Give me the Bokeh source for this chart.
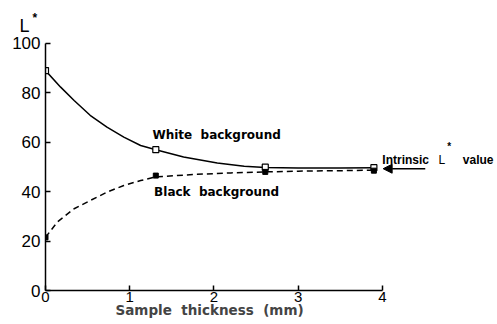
from bokeh.plotting import figure
from bokeh.layouts import column
from bokeh.models import Range1d, Label, Arrow, NormalHead, FixedTicker, Title, Div
from bokeh.embed import file_html
from bokeh.resources import INLINE

# ---- data ----
thickness = [0.0, 1.31, 2.61, 3.9]
white_L = [89.0, 57.0, 49.9, 49.7]
black_L = [21.5, 46.5, 48.0, 48.5]

# fitted curves
white_curve_x = [0.0, 0.18, 0.34, 0.53, 0.73, 0.93, 1.13, 1.31, 1.64, 2.04, 2.36, 2.61, 3.0, 3.5, 3.9]
white_curve_y = [89.0, 82.3, 76.9, 70.9, 66.1, 62.1, 58.7, 57.0, 54.0, 51.6, 50.3, 49.8, 49.6, 49.6, 49.7]
black_curve_x = [0.0, 0.14, 0.34, 0.53, 0.73, 0.93, 1.13, 1.31, 1.8, 2.2, 2.61, 3.0, 3.5, 3.9]
black_curve_y = [21.5, 27.7, 33.1, 36.4, 39.8, 42.5, 44.5, 46.0, 47.0, 47.6, 48.0, 48.3, 48.5, 48.7]

x_ticks = [0, 1, 2, 3, 4]
y_ticks = [0, 20, 40, 60, 80, 100]

FONT = "Liberation Sans"
BOLD_WIDE = "DejaVu Sans"
NB = "\u00a0\u00a0"

X_END = 5.368
Y_TOP = 102.8

# ---- main chart ----
p = figure(width=497, height=291, output_backend="svg", toolbar_location=None,
           x_range=Range1d(0, X_END), y_range=Range1d(0, Y_TOP),
           min_border_left=45, min_border_right=0, min_border_top=3, min_border_bottom=34)
p.title = None
p.outline_line_color = None
p.xgrid.visible = False
p.ygrid.visible = False
p.background_fill_color = "white"
p.border_fill_color = "white"

for ax, ticks, bounds in ((p.xaxis, x_ticks, (0, 4)), (p.yaxis, y_ticks, (0, 100))):
    ax.ticker = FixedTicker(ticks=ticks)
    ax.bounds = bounds
    ax.axis_line_color = "black"
    ax.axis_line_width = 1.5
    ax.major_tick_line_color = "black"
    ax.major_tick_line_width = 1.5
    ax.major_tick_in = 5
    ax.major_tick_out = 0
    ax.minor_tick_line_color = None
    ax.major_label_text_font = FONT
    ax.major_label_text_color = "black"
p.xaxis.major_label_text_font_size = "15px"
p.yaxis.major_label_text_font_size = "17px"
p.xaxis.major_label_standoff = 1
p.yaxis.major_label_standoff = 5

# x axis title (drawn in the bottom panel)
xt = Title(text="Sample" + NB + "thickness" + NB + "(mm)", align="left", offset=70,
           text_font=BOLD_WIDE, text_font_size="13.5px", text_font_style="bold",
           standoff=0)
try:
    xt.standoff = -9
except Exception:
    pass
p.add_layout(xt, "below")

# curves
p.line(white_curve_x, white_curve_y, line_color="black", line_width=1.5)
p.line(black_curve_x, black_curve_y, line_color="black", line_width=1.5, line_dash="6 4")

# markers
p.scatter(thickness, white_L, marker="square", size=6, fill_color="white",
          line_color="black", line_width=1.2)
p.scatter(thickness, black_L, marker="square", size=5, fill_color="black",
          line_color="black", line_width=1)

# annotations
def lab(fig, x, y, t, font=FONT, size="12px", bold=True, align="left"):
    fig.add_layout(Label(x=x, y=y, text=t, text_font=font, text_font_size=size,
                         text_font_style="bold" if bold else "normal",
                         text_align=align, text_baseline="alphabetic", text_color="black"))

lab(p, 1.27, 62.9, "White" + NB + "background", font=BOLD_WIDE)
lab(p, 1.29, 39.7, "Black" + NB + "background", font=BOLD_WIDE)
lab(p, 4.0, 52.9, "Intrinsic")
lab(p, 4.667, 52.9, "L", bold=False)
lab(p, 4.77, 58.1, "*", size="10px")
lab(p, 4.956, 52.9, "value")
p.add_layout(Arrow(end=NormalHead(size=9, fill_color="black", line_color="black"),
                   x_start=4.51, y_start=49.3, x_end=4.01, y_end=49.3,
                   line_color="black", line_width=1.5))

# ---- y axis title "L*" above the axis ----
ytitle = Div(
    text=('<span style="position:absolute; left:19.5px; top:17px; line-height:18px; '
          'font-family:\'Liberation Sans\'; font-size:18px; color:black; white-space:nowrap;">L'
          '<span style="position:relative; top:-10px; margin-left:3px; font-size:12px; '
          'font-weight:bold;">*</span></span>'),
    width=497, height=33, margin=0)

layout = column(ytitle, p, spacing=0)
open("out.html", "w").write(file_html(layout, INLINE))
